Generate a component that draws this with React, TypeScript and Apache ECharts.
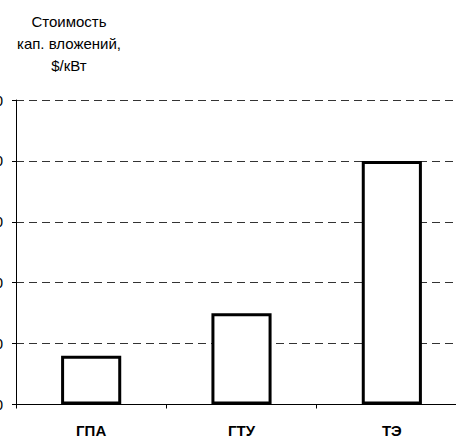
import React, { useEffect, useRef } from "react";
import * as echarts from "echarts";

const categories = ["ГПА", "ГТУ", "ТЭ"];
const costs = [160, 300, 800];
const yTicks = { min: 0, max: 1000, interval: 200 };
const titleLines = ["Стоимость", "кап. вложений,", "$/кВт"];

const FONT = "Liberation Sans, Arial, sans-serif";

export default function App() {
  const ref = useRef<HTMLDivElement>(null);

  useEffect(() => {
    if (!ref.current) return;
    const chart = echarts.init(ref.current, null, { renderer: "svg" });
    chart.setOption({
      animation: false,
      backgroundColor: "#ffffff",
      textStyle: { fontFamily: FONT },
      title: {
        text: titleLines.join("\n"),
        left: 69,
        top: 10,
        textAlign: "center",
        padding: 0,
        textStyle: {
          fontSize: 15,
          fontWeight: "normal",
          lineHeight: 22,
          color: "#000",
          fontFamily: FONT,
        },
      },
      grid: {
        left: 16,
        top: 100,
        width: 451,
        height: 304.5,
        containLabel: false,
        outerBoundsMode: "none",
      },
      xAxis: {
        type: "category",
        data: categories,
        axisLine: { show: true, lineStyle: { color: "#000", width: 1 } },
        axisTick: { show: true, length: 4, lineStyle: { color: "#000" } },
        axisLabel: {
          margin: 18,
          fontSize: 15,
          fontWeight: "bold",
          color: "#000",
          fontFamily: FONT,
        },
      },
      yAxis: {
        type: "value",
        min: yTicks.min,
        max: yTicks.max,
        interval: yTicks.interval,
        axisLine: { show: true, lineStyle: { color: "#000", width: 1 } },
        axisTick: { show: true, length: 4, lineStyle: { color: "#000" } },
        axisLabel: {
          margin: 13,
          fontSize: 15,
          color: "#000",
          fontFamily: FONT,
          formatter: (v: number) => String(v),
        },
        splitLine: {
          show: true,
          lineStyle: { color: "#333", width: 1, type: [8, 5] },
        },
      },
      series: [
        {
          type: "bar",
          data: costs,
          barWidth: "40%",
          itemStyle: { color: "#ffffff", borderColor: "#000", borderWidth: 3 },
        },
      ],
    });
    return () => chart.dispose();
  }, []);

  return (
    <div
      ref={ref}
      style={{ position: "fixed", left: 0, top: 0, width: 456, height: 439 }}
    />
  );
}
